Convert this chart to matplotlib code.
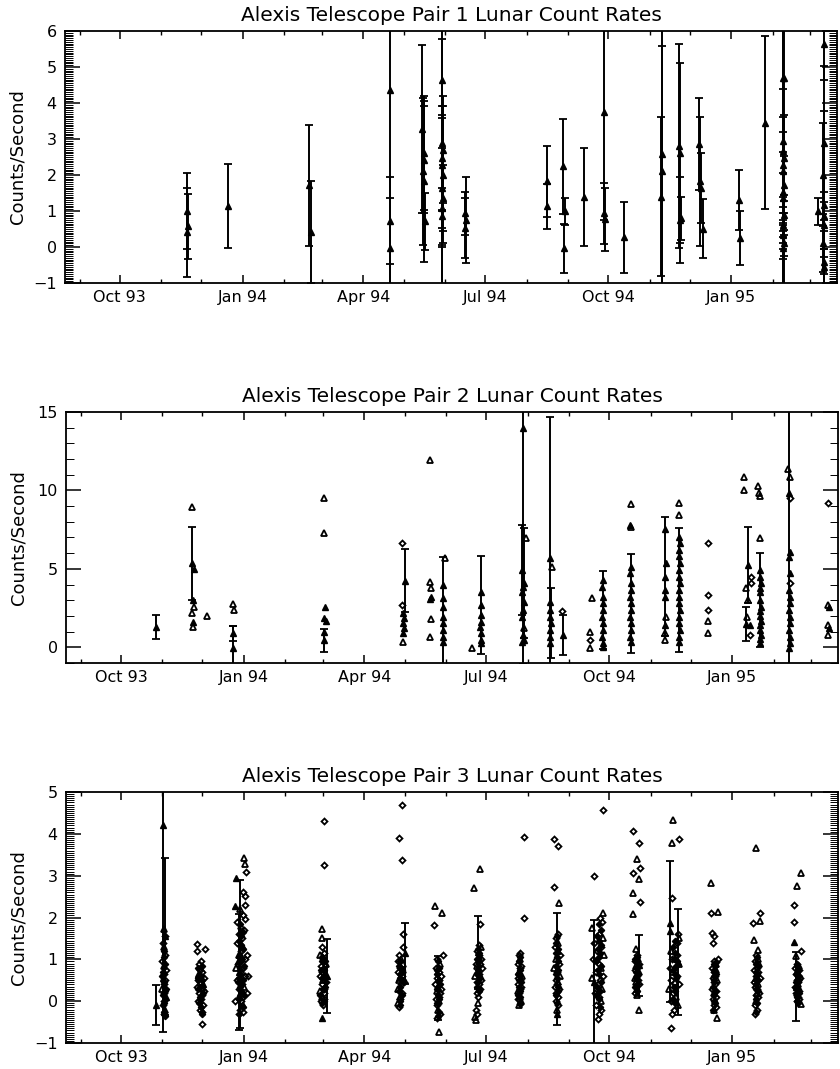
import datetime as dt
import numpy as np
import matplotlib
matplotlib.use("Agg")
import matplotlib.pyplot as plt
import matplotlib.dates as mdates
from matplotlib.ticker import MultipleLocator

plt.rcParams['font.family'] = ['DejaVu Sans']

# 日付は 1993-10-01 からの日数
T0 = mdates.date2num(dt.datetime(1993, 10, 1))
X_RANGE = (-41, 536)

titles = ["Alexis Telescope Pair 1 Lunar Count Rates",
          "Alexis Telescope Pair 2 Lunar Count Rates",
          "Alexis Telescope Pair 3 Lunar Count Rates"]

# ---- Pair 1: (day, rate, error) ----
p1_bar = [
    (50, 1.0, 1.05), (51, 0.57, 0.9), (50.5, 0.41, 1.24),
    (81, 1.13, 1.17),
    (141, 1.71, 1.68), (142.5, 0.41, 1.42),
    (202, 4.35, 5.5), (202, 0.73, 1.2), (202, -0.03, 1.39),
    (226, 3.28, 2.33), (227, 2.61, 1.58), (227.5, 2.43, 1.48), (226.5, 2.1, 2.04), (227, 1.82, 2.23), (228, 0.71, 0.79),
    (241, 4.65, 5.8), (240.5, 2.89, 2.88), (241.5, 2.7, 1.49), (241, 2.47, 1.44), (240.5, 2.29, 1.3),
    (241.5, 2.01, 1.9), (241, 1.64, 1.11), (241.5, 1.36, 0.93), (240.5, 1.08, 2.6), (241, 0.85, 0.79),
    (258, 0.94, 0.6), (258.5, 0.75, 1.19), (258, 0.52, 0.84),
    (319, 1.82, 0.98), (319.5, 1.13, 0.63),
    (331, 2.24, 1.32), (332.5, 0.99, 0.37), (332, -0.03, 0.68),
    (347, 1.38, 1.36),
    (362, 3.74, 3.0), (361.5, 0.94, 0.85), (362.5, 0.77, 0.87),
    (377, 0.27, 0.98),
    (405, 2.57, 4.0), (405, 2.1, 3.49), (404.5, 1.4, 2.2),
    (418, 2.8, 2.83), (418.5, 2.61, 2.51), (419, 0.75, 1.2), (419.5, 0.8, 0.6),
    (433, 2.86, 1.27), (433.5, 1.82, 1.78), (434, 1.64, 0.97), (436, 0.5, 0.82),
    (463, 1.31, 0.84), (463.5, 0.25, 0.76),
    (482, 3.45, 2.4),
    (495.5, 4.7, 6.0), (496.5, 4.7, 5.8), (496, 2.94, 4.0), (495.5, 2.66, 1.72), (496.5, 2.47, 1.2),
    (496, 2.29, 0.9), (495.5, 2.1, 1.5), (496.5, 1.73, 0.8), (496, 1.54, 1.1), (495.5, 1.36, 0.7),
    (496.5, 0.89, 0.55), (496, 0.62, 0.5), (495.5, 0.34, 0.4), (496.5, 0.11, 0.35), (496, -0.03, 0.3),
    (522, 0.99, 0.37),
    (526, 5.65, 1.0), (526, 2.89, 2.14), (525.5, 2.01, 1.44), (526.5, 1.17, 2.6), (526, 0.62, 0.9),
    (525.5, 0.11, 0.8), (526.5, -0.41, 0.35), (526, 0.85, 0.4), (526, -0.55, 0.5),
]

# ---- Pair 2 ----
p2_bar = [
    (26, 1.31, 0.75), (53.5, 5.35, 2.33), (84, 0.89, 0.47), (84, -0.03, 1.39), (152, 0.46, 0.73),
    (212, 4.24, 2.02), (240.5, 1.1, 4.68), (269, 2.69, 3.14), (300.5, 13.95, 15.0), (300, 4.92, 2.87),
    (301, 4.08, 3.5), (321, 5.67, 9.02), (321.5, 1.53, 2.23), (330.5, 0.8, 1.28), (360, 2.38, 2.5),
    (381, 2.8, 3.14), (407, 4.5, 3.8), (417, 3.65, 3.97), (468.5, 5.24, 2.44), (467.5, 1.5, 1.1),
    (478, 3.0, 3.0), (499.5, 5.77, 10.0),
]
p2_tri = [
    (53.5, 8.96), (55, 2.59), (53.5, 2.17), (54, 1.31), (64, 2.0), (84, 2.74), (84.5, 2.38),
    (152, 9.49), (152, 7.26), (210.5, 0.36), (231, 11.93), (231, 4.18), (231.5, 3.76), (231.5, 1.78),
    (231, 0.68), (242, 5.67), (262.5, -0.06), (302.5, 6.94), (301.5, 1.21), (322, 5.13),
    (350.5, 0.99), (350.5, -0.06), (352.3, 3.16), (381, 9.13), (381.5, 7.65), (407.5, 1.95),
    (406.5, 0.89), (407, 0.46), (417, 9.21), (417.5, 8.43), (438.5, 1.69), (438.5, 0.93),
    (466, 10.83), (466, 10.02), (467, 3.76), (469, 3.01), (468, 1.95), (476, 10.27), (477, 9.85),
    (478, 9.64), (477.5, 6.98), (499, 11.34), (500.5, 10.87), (528.5, 2.69), (528.5, 1.42), (528.5, 0.78),
]
p2_dia = [
    (210, 6.66), (210, 2.69), (330, 2.31), (350.5, 0.46), (438.5, 6.62), (438.5, 3.33), (438.5, 2.38),
    (470.8, 4.5), (471, 4.08), (470.5, 0.78), (500.5, 9.53), (500, 4.08), (528.5, 9.21),
]
p2_ftri = [
    (55, 4.97), (54, 3.01), (54, 1.63),
    (152.5, 2.59), (152, 1.85), (153, 1.7), (152, 0.99),
    (211, 2.17), (211.5, 1.85), (211, 1.53), (211.5, 1.21), (211, 0.89),
    (232, 3.22), (231, 3.1),
    (240.5, 3.97), (241, 3.12), (240.5, 2.59), (241, 1.95), (240.5, 1.53), (241, 0.68), (240.5, 0.36),
    (269, 3.54), (269.5, 2.06), (269, 1.63), (268.5, 1.31), (269, 0.89), (269.5, 0.46), (269, 0.25),
    (300.5, 3.86), (300, 3.54), (301, 2.9), (300.5, 2.38), (300, 1.95), (300.5, 0.78), (301, 0.46), (300, 0.36),
    (321, 2.9), (320.5, 2.38), (321, 1.95), (321, 1.1), (320.5, 0.68), (321, 0.25),
    (360, 4.29), (359.5, 3.86), (360.5, 3.22), (360, 2.8), (359.5, 1.95), (360.5, 1.53), (360, 1.1),
    (359.5, 0.68), (360.5, 0.25), (360, 0.0),
    (380.5, 7.79), (381, 5.13), (380.5, 4.71), (381, 4.08), (381.5, 3.65), (380.5, 3.22), (381, 2.38),
    (380.5, 1.95), (381.5, 1.53), (381, 1.1), (380.5, 0.68), (381, 0.36),
    (407, 7.52), (407.5, 5.39), (407, 3.65), (406.5, 3.22), (407, 1.42),
    (417, 7.04), (418, 6.62), (417.5, 6.2), (417, 5.8), (418, 5.4), (417.5, 4.95), (417, 4.5), (418, 4.08),
    (417.5, 3.22), (417, 2.8), (418, 2.38), (417.5, 1.95), (417, 1.53), (418, 1.1), (417.5, 0.68), (417, 0.36),
    (470, 1.42),
    (478, 4.9), (477.5, 4.5), (478.5, 4.1), (478, 3.8), (477.5, 3.5), (478.5, 2.6), (478, 2.3), (477.5, 2.0),
    (478.5, 1.7), (478, 1.4), (477.5, 1.1), (478.5, 0.8), (478, 0.5), (477.5, 0.3),
    (499.5, 9.85), (500, 6.09), (500.5, 4.71), (499.5, 3.65), (500, 3.22), (500.5, 2.8), (499.5, 2.38),
    (500, 1.95), (500.5, 1.53), (499.5, 1.1), (500, 0.68), (500.5, 0.25), (499.5, -0.06),
    (529, 2.6), (529, 1.21),
]

# ---- Pair 3 ----
p3_bar = [
    (26, -0.1, 0.48), (31.5, 4.22, 4.96), (33, 1.55, 1.87), (88.7, 1.13, 1.77), (88, 0.7, 1.38),
    (154, 0.6, 0.88), (212.3, 1.15, 0.73), (237, 0.31, 0.77), (267, 1.17, 0.87), (326.2, 0.77, 1.33),
    (353.6, 0.45, 1.5), (387.4, 0.86, 0.73), (410.4, 1.67, 1.69), (416.2, 0.93, 1.27), (504.4, 0.35, 0.83),
]
p3_tri = [
    (32, 1.72), (32.5, 1.3), (32, 0.85), (31, 0.3), (33, -0.2),
    (92.4, 3.43), (93, 3.27), (89, 2.2), (90, 1.8), (91.5, 1.3), (88, 1.1), (90.5, 0.7), (92, 0.35),
    (89.5, 0.2), (91, -0.1), (86, 0.8),
    (150.7, 1.72), (150.7, 1.52), (148.5, 1.1), (153, 0.9), (151.5, 0.8), (152.5, 0.65), (151, 0.5),
    (148.5, 0.25), (150.5, 0.1),
    (209.5, 1.0), (210.5, 0.9), (211, 0.75), (209, 0.55), (208, 0.5), (207, 0.3), (208.5, 0.1), (207.5, -0.05),
    (235, 2.28), (240, 2.12), (238, -0.74), (238.5, 0.9), (237, 0.35), (236, 0.25), (238, 0.0), (237, -0.2),
    (268.6, 3.15), (264.2, 2.71), (265, -0.38), (265.5, -0.46), (269.5, 1.3), (267.5, 1.05), (266.5, 0.85),
    (265, 0.6), (267.5, 0.3), (267, -0.05),
    (298.5, 1.0), (297.5, 0.7), (299.5, 0.6), (296.5, 0.25), (298.5, 0.1), (299, 0.0), (297.5, -0.1),
    (327.4, 2.34), (327, 1.4), (326.5, 1.2), (325.5, 1.0), (324, 0.8), (328.5, 0.6), (327, 0.45), (326, -0.2),
    (360, 2.12), (352.5, 1.75), (360.5, 1.5), (361, 1.1), (359, 0.8), (352, 0.55), (359.5, 0.3), (358.5, 0.0),
    (386, 3.39), (387.4, 2.91), (383, 2.58), (383, 2.08), (385, 1.25), (387, -0.2), (386.5, 1.0), (385, 0.85),
    (387.5, 0.7), (384, 0.55), (385, 0.45), (385.5, 0.3), (386, 0.15),
    (412.9, 4.33), (411.9, 3.79), (417, 1.5), (411, 1.2), (417.5, 0.9), (413, 0.7), (414, 0.45), (410, 0.3),
    (415, 0.1), (416.5, -0.1),
    (441.4, 2.83), (446.2, 2.13), (443.6, -0.22), (445.4, -0.4), (444.5, 0.9), (445, 0.75), (445.5, 0.5),
    (443.5, 0.2), (444, 0.0),
    (474.9, 3.67), (477.4, 1.92), (472.9, 1.46), (476.2, 1.23), (476.5, 1.0), (477, 0.9), (474.5, 0.55),
    (476.5, 0.4), (475.5, 0.2), (475, 0.0),
    (508.2, 3.07), (505.4, 2.75), (504.4, 1.09), (508.7, -0.06), (506.5, 0.85), (505.5, 0.7), (507, 0.55),
    (506, 0.4), (505, 0.2),
]
p3_dia = [
    (33, 1.55), (31.5, 1.4), (33, 1.1), (31, 0.95), (33.5, 0.75), (32.5, 0.65), (33, 0.5), (32, 0.4),
    (32.5, 0.2), (32, 0.0), (31.5, -0.1), (32.5, -0.3),
    (56.7, 1.37), (63, 1.25), (57, 1.21), (60, 0.97), (58.5, 0.9), (59, 0.75), (61, 0.7), (60, 0.6),
    (62, 0.55), (58, 0.5), (59.5, 0.45), (57, 0.35), (60.5, 0.3), (62.5, 0.25), (58.5, 0.2), (61, 0.15),
    (60, 0.05), (57.5, 0.0), (61.5, -0.1), (59, -0.2), (60.5, -0.25), (60.7, -0.54),
    (93.2, 3.09), (91.3, 2.6), (92.5, 2.52), (92.6, 2.29), (92.5, 1.96), (91, 2.05), (87, 1.9), (92, 1.7),
    (88.5, 1.6), (90.5, 1.5), (86.5, 1.4), (89.5, 1.2), (92.5, 1.0), (87.5, 0.9), (91, 0.8), (89, 0.75),
    (93, 0.6), (88.5, 0.55), (86.5, 0.5), (90.5, 0.4), (88, 0.3), (91, 0.1), (90, 0.0), (89, -0.2),
    (91.5, -0.26), (88.5, -0.3), (94, 1.1), (95, 0.6), (94.5, 0.2), (85.5, 0.0),
    (152, 4.3), (152, 3.25), (150, 1.3), (152, 1.15), (151, 1.0), (149.5, 0.85), (150.5, 0.7), (149, 0.6),
    (153.5, 0.45), (150, 0.4), (152, 0.3), (151.5, 0.2), (152, 0.05), (149.5, 0.0), (151, -0.1),
    (210, 4.7), (208, 3.89), (210, 3.37), (210.6, 1.6), (210.6, 1.29), (208, 1.1), (207, 0.95), (208.5, 0.8),
    (207.5, 0.7), (210, 0.6), (211.5, 0.45), (209.5, 0.4), (210, 0.2), (209, 0.05), (208, -0.15),
    (234.4, 1.83), (240.4, 1.1), (236, 1.0), (235.5, 0.8), (237.5, 0.7), (239, 0.6), (236.5, 0.55),
    (238, 0.5), (235, 0.4), (239.5, 0.3), (238.5, 0.2), (237.5, 0.1), (235.5, 0.05), (236.5, -0.1),
    (238.5, -0.3), (236, -0.4),
    (268.6, 1.84), (268, 1.35), (266, 1.2), (267.5, 1.1), (269, 1.0), (265.5, 0.9), (268.5, 0.9), (270, 0.8),
    (267, 0.7), (268, 0.65), (269.5, 0.5), (266, 0.45), (267.5, 0.4), (268.5, 0.3), (266.5, 0.2), (267, 0.1),
    (265.5, -0.2), (266, -0.3),
    (301, 3.93), (301, 2.0), (298, 1.15), (297.5, 1.1), (297, 0.9), (299, 0.85), (298, 0.8), (296.5, 0.55),
    (298.5, 0.5), (297, 0.4), (299, 0.35), (298, 0.3), (297.5, 0.2), (297, 0.05), (298, -0.06),
    (323.6, 3.88), (327, 3.72), (323.6, 2.74), (327, 1.6), (325, 1.5), (324.5, 1.3), (328, 1.1), (327.5, 0.9),
    (326, 0.7), (325, 0.5), (326, 0.4), (324.5, 0.35), (327.5, 0.3), (325.5, 0.2), (326.5, 0.1), (325, 0.0),
    (327, -0.1),
    (354, 3.0), (360, 4.58), (356.6, -0.42), (358, 2.0), (359.5, 1.9), (357, 1.6), (354, 1.4), (358.5, 1.3),
    (356, 1.2), (353, 1.0), (357.5, 0.9), (355, 0.7), (360, 0.6), (358, 0.5), (356.5, 0.4), (354.5, 0.2),
    (357, 0.1), (355.5, -0.1), (359, -0.2), (357.5, -0.3),
    (383, 4.06), (387.4, 3.79), (383, 3.07), (387.9, 3.19), (387.9, 2.37), (385.5, 1.1), (384, 0.95),
    (387, 0.9), (386, 0.8), (384.5, 0.75), (385.5, 0.6), (386.5, 0.5), (387, 0.4), (384.5, 0.2),
    (416.9, 3.87), (412, 2.46), (411.1, -0.64), (416.5, 1.6), (415.5, 1.4), (416, 1.1), (412, 1.0),
    (410.5, 0.8), (416, 0.6), (411.5, 0.5), (417, 0.4), (412.5, 0.2), (411, 0.0), (413.5, -0.2), (412, -0.3),
    (441.4, 2.1), (441.9, 1.64), (443.6, 1.56), (442.4, 1.38), (446.2, 1.01), (445, 0.93), (443, 0.95),
    (442, 0.8), (443.5, 0.7), (444, 0.6), (442.5, 0.55), (443, 0.45), (444, 0.4), (442, 0.3), (444.5, 0.25),
    (445, 0.1), (442.5, 0.05), (443, -0.1), (444.5, -0.15),
    (477.4, 2.12), (472.4, 1.88), (473.7, -0.3), (475, 1.1), (474, 0.95), (475.5, 0.8), (473.5, 0.75),
    (476, 0.7), (474.5, 0.6), (477.5, 0.55), (475, 0.5), (473, 0.45), (474, 0.35), (475.5, 0.3), (477, 0.2),
    (474.5, 0.15), (476, 0.1), (474, -0.1), (475.5, -0.2),
    (503.2, 2.29), (503.2, 1.9), (508.7, 1.21), (505, 0.9), (504, 0.8), (507, 0.75), (504.5, 0.65), (506, 0.6),
    (507.5, 0.55), (505, 0.5), (506, 0.45), (504, 0.35), (505.5, 0.3), (507, 0.25), (504.5, 0.2), (506, 0.1),
    (506.5, 0.05), (505.5, 0.0),
]
# 各クラスタの中心部（密集して黒く見える点）
p3_core = [
    (32, 1.2), (33, 0.9), (31.5, 0.7), (32.5, 0.45), (33.5, 0.3), (31.5, 0.15), (32.5, -0.05), (33, -0.35),
    (32, 1.05), (31, 0.6), (33, 0.25), (32, -0.25),
    (58, 0.8), (60.5, 0.85), (57.5, 0.55), (61, 0.5), (59.5, 0.35), (58, 0.3), (61.5, 0.2), (59.5, 0.1),
    (58.5, -0.05), (60, -0.15), (61, -0.3), (59, 0.6),
    (89, 1.85), (91.5, 1.65), (88, 1.45), (90, 1.35), (91, 1.25), (88.5, 1.05), (90, 0.95), (92, 0.85),
    (89, 0.65), (91.5, 0.5), (87.5, 0.45), (90, 0.25), (92, 0.15), (88.5, 0.05), (91, -0.15), (89.5, 1.55),
    (90.5, 1.0), (89, 0.35),
    (150.5, 1.05), (152.5, 0.95), (149.5, 0.75), (151.5, 0.6), (150, 0.55), (152.5, 0.35), (149, 0.15),
    (151.5, 0.0), (150, -0.05), (152, 0.75), (151, 0.3), (150, 0.95),
    (209, 0.95), (208, 0.85), (210, 0.75), (209, 0.65), (208.5, 0.55), (210.5, 0.5), (209, 0.35), (208, 0.25),
    (210, 0.15), (209, 0.0), (208.5, -0.1), (209.5, 0.8),
    (237, 0.95), (238, 0.8), (236.5, 0.65), (237.5, 0.5), (238.5, 0.4), (236, 0.3), (237, 0.15), (238, 0.05),
    (236.5, -0.05), (237.5, -0.25), (237, -0.35), (236, 0.75),
    (267, 1.25), (268, 1.15), (266.5, 1.0), (267.5, 0.95), (268, 0.85), (267, 0.75), (266, 0.65),
    (268.5, 0.55), (267, 0.45), (266.5, 0.35), (268, 0.25), (267.5, 0.6),
    (298, 1.05), (297.5, 0.95), (298.5, 0.75), (297, 0.65), (298, 0.6), (299, 0.45), (297.5, 0.35),
    (298.5, 0.25), (297, 0.15), (298, 0.1), (298.5, -0.05), (297.5, 0.5),
    (326, 1.55), (325.5, 1.4), (326.5, 1.25), (325, 1.15), (326, 1.05), (327, 0.95), (325.5, 0.85),
    (326.5, 0.75), (325, 0.65), (326, 0.55), (327, 0.35), (325.5, 0.15), (326, -0.05), (326.5, 0.25),
    (357, 1.85), (358.5, 1.7), (356, 1.55), (357.5, 1.45), (359, 1.35), (356.5, 1.25), (358, 1.15),
    (357, 1.05), (355.5, 0.95), (358.5, 0.85), (356.5, 0.75), (357.5, 0.65), (359, 0.45), (356, 0.35),
    (358, 0.25), (357, 0.05), (355, 0.15), (358, -0.15),
    (385.5, 1.05), (386, 0.95), (385, 0.7), (386.5, 0.65), (385.5, 0.4), (384.5, 0.35), (386, 0.25),
    (385, 0.55), (386.5, 0.85), (384.5, 1.0),
    (414, 1.45), (413, 1.3), (414.5, 1.15), (413.5, 1.0), (415, 0.85), (413, 0.75), (414, 0.65), (415, 0.55),
    (413.5, 0.35), (414.5, 0.25), (413, 0.05), (414, -0.05), (415.5, 0.95),
    (443.5, 0.9), (444, 0.85), (443, 0.75), (444.5, 0.65), (443.5, 0.5), (442.5, 0.35), (444, 0.25),
    (443, 0.15), (443.5, 0.0), (444, -0.05), (443, 0.6), (442.5, -0.2),
    (475.5, 1.05), (475, 0.9), (476, 0.85), (474.5, 0.7), (475.5, 0.65), (476, 0.5), (474.5, 0.4),
    (475, 0.3), (476, 0.25), (474.5, 0.05), (475.5, -0.05), (475, -0.25),
    (505.5, 0.85), (506, 0.75), (505, 0.65), (506.5, 0.6), (505.5, 0.5), (504.5, 0.45), (506, 0.3),
    (505, 0.35), (506.5, 0.2), (505.5, 0.1), (505, 0.0), (506, -0.05),
]
p3_ftri = [
    (31.5, 0.55), (33.5, 0.1), (57.5, 0.65), (61.5, 0.4), (59, 0.1),
    (86.2, 2.95), (85, 2.28), (87.5, 0.95), (90, 0.45), (88, 0.15),
    (150.7, -0.4), (326.2, -0.3), (410.4, 1.88), (503.2, 1.42),
]

panels = [
    dict(bar=p1_bar, tri=[], dia=[], ftri=[], core=[], ylim=(-1, 6), major=1, minor=0.05),
    dict(bar=p2_bar, tri=p2_tri, dia=p2_dia, ftri=p2_ftri, core=[], ylim=(-1, 15), major=5, minor=1),
    dict(bar=p3_bar, tri=p3_tri, dia=p3_dia, ftri=p3_ftri, core=p3_core, ylim=(-1, 5), major=1, minor=0.05),
]
rects = [(0.0774, 0.7353, 0.919, 0.2357),
         (0.0786, 0.3798, 0.919, 0.2348),
         (0.0786, 0.0243, 0.919, 0.2348)]


def xcol(pts):
    return T0 + np.array([p[0] for p in pts], dtype=float)


def ycol(pts, i=1):
    return np.array([p[i] for p in pts], dtype=float)


fig = plt.figure(figsize=(8.4, 10.69), dpi=100)

for title, pan, rect in zip(titles, panels, rects):
    ax = fig.add_axes(rect)

    b = pan['bar']
    ax.errorbar(xcol(b), ycol(b), yerr=ycol(b, 2), fmt='^', ms=5, mfc='k', mec='k',
                ecolor='k', elinewidth=1.4, capsize=2.7, capthick=1.3)
    if pan['core']:
        ax.plot(xcol(pan['core']), ycol(pan['core']), 'D', ms=3.2, color='k', ls='none')
    if pan['ftri']:
        ax.plot(xcol(pan['ftri']), ycol(pan['ftri']), '^', ms=5, color='k', ls='none')
    if pan['tri']:
        ax.plot(xcol(pan['tri']), ycol(pan['tri']), '^', ms=5, mfc='none', mec='k', mew=1.3, ls='none')
    if pan['dia']:
        ax.plot(xcol(pan['dia']), ycol(pan['dia']), 'D', ms=3.0, mfc='none', mec='k', mew=1.3, ls='none')

    ax.set_xlim(T0 + X_RANGE[0], T0 + X_RANGE[1])
    ax.set_ylim(*pan['ylim'])
    ax.xaxis.set_major_locator(mdates.MonthLocator(bymonth=[1, 4, 7, 10]))
    ax.xaxis.set_minor_locator(mdates.MonthLocator())
    ax.xaxis.set_major_formatter(mdates.DateFormatter('%b %y'))
    ax.yaxis.set_major_locator(MultipleLocator(pan['major']))
    ax.yaxis.set_minor_locator(MultipleLocator(pan['minor']))

    ax.tick_params(axis='x', which='major', direction='in', length=6, width=1.1,
                   top=True, labelsize=11.5, pad=5)
    ax.tick_params(axis='x', which='minor', direction='in', length=3, width=1, top=True)
    ax.tick_params(axis='y', which='major', direction='in', length=11, width=1.1,
                   right=True, labelsize=11.5, pad=6)
    ax.tick_params(axis='y', which='minor', direction='in', length=6, width=0.7, right=True)
    for s in ax.spines.values():
        s.set_linewidth(1.3)

    ax.set_title(title, fontsize=14.5, pad=7)
    ax.set_ylabel('Counts/Second', fontsize=13)
    ax.yaxis.set_label_coords(-0.0505, 0.5)

fig.savefig('out.png', dpi=100)
